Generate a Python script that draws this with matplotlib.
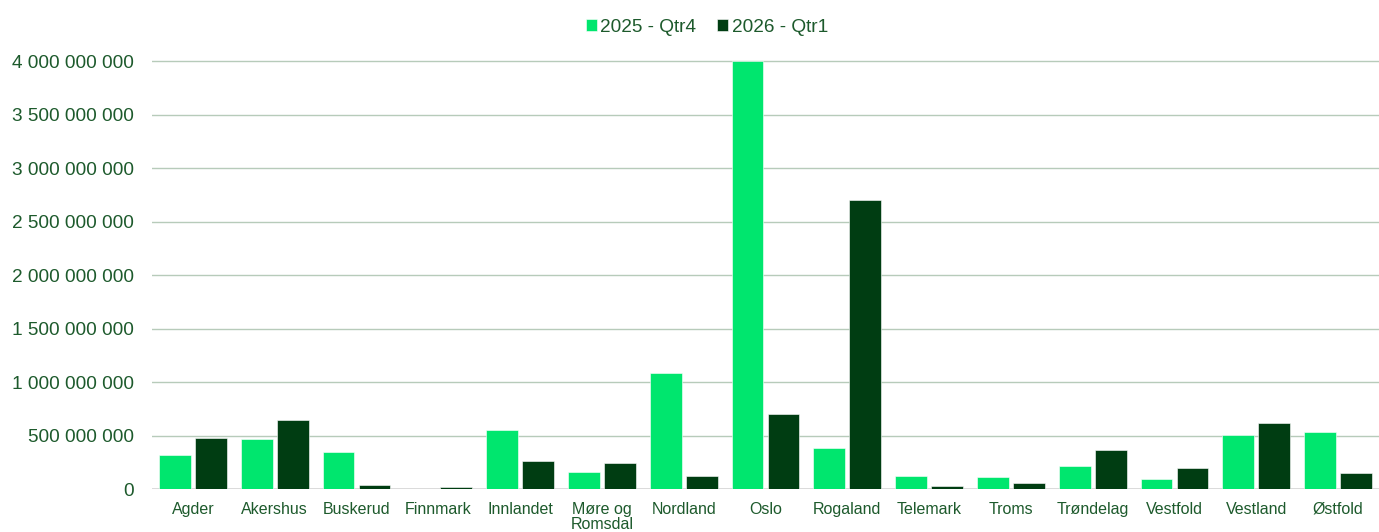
import matplotlib
matplotlib.use("Agg")
import matplotlib.pyplot as plt
from matplotlib.ticker import FuncFormatter
import numpy as np

# Regional totals per quarter
regions = ["Agder", "Akershus", "Buskerud", "Finnmark", "Innlandet", "Møre og\nRomsdal",
           "Nordland", "Oslo", "Rogaland", "Telemark", "Troms", "Trøndelag",
           "Vestfold", "Vestland", "Østfold"]
q4_2025 = [321e6, 467e6, 346e6, 2e6, 551e6, 165e6,
           1090e6, 4000e6, 386e6, 124e6, 115e6, 218e6,
           99e6, 510e6, 535e6]
q1_2026 = [480e6, 650e6, 37e6, 18e6, 264e6, 249e6,
           124e6, 701e6, 2704e6, 34e6, 62e6, 364e6,
           202e6, 622e6, 155e6]
series_names = ["2025 - Qtr4", "2026 - Qtr1"]
yticks = np.arange(0, 4.0e9 + 1, 0.5e9)

light_green = "#00E66E"
dark_green = "#003D12"
text_color = "#1D5A2C"

plt.rcParams["font.family"] = ["Liberation Sans", "DejaVu Sans"]

W, H = 1379, 532
fig = plt.figure(figsize=(W / 100, H / 100), dpi=100)
ymax = 4.02e9
px_per_unit = 428 / 4.0e9
top_px = 489.3 - ymax * px_per_unit
ax = fig.add_axes([152 / W, 1 - 489.3 / H, (W - 152) / W, (489.3 - top_px) / H])

x = np.arange(len(regions))
bw = 0.39
gap = 0.025
ax.bar(x - gap - bw / 2, q4_2025, width=bw, color=light_green,
       edgecolor="white", linewidth=0.4, label=series_names[0], zorder=3)
ax.bar(x + gap + bw / 2, q1_2026, width=bw, color=dark_green,
       edgecolor="white", linewidth=0.4, label=series_names[1], zorder=3)

ax.set_xlim(-0.5, len(regions) - 0.5)
ax.set_ylim(0, ymax)
ax.set_yticks(yticks)
ax.yaxis.set_major_formatter(FuncFormatter(lambda v, p: f"{int(round(v)):,}".replace(",", " ")))
ax.set_xticks(x)
ax.set_xticklabels(regions, linespacing=1.05)

ax.grid(axis="y", color="#B7CBBA", linewidth=1.0, zorder=0)
ax.axhline(0, color="#D9D9D9", linewidth=2.0, zorder=2)
for s in ax.spines.values():
    s.set_visible(False)
ax.tick_params(axis="both", length=0)
ax.tick_params(axis="y", labelsize=13.7, labelcolor=text_color, pad=13)
ax.tick_params(axis="x", labelsize=11.5, labelcolor=text_color, pad=9)

fig.legend(loc="center", bbox_to_anchor=(707 / W, 1 - 27 / H), ncol=2, frameon=False,
           fontsize=13.7, labelcolor=text_color, handlelength=0.55, handleheight=0.55,
           handletextpad=0.2, columnspacing=1.1)

fig.savefig("out.png", dpi=100)
